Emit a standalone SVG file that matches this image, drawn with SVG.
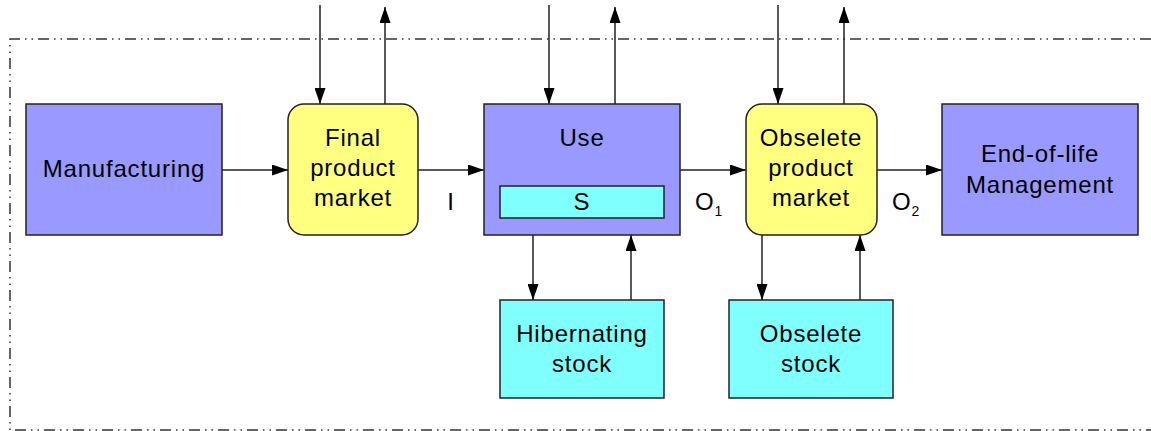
<svg xmlns="http://www.w3.org/2000/svg" width="1151" height="431" viewBox="0 0 1151 431">
<style>
.t{font-family:"Liberation Sans",Arial,sans-serif;font-size:24px;letter-spacing:0.8px;fill:#000;text-anchor:middle}
.b{fill:#9999FF;stroke:#222;stroke-width:1.5}
.y{fill:#FFFF80;stroke:#222;stroke-width:1.5}
.c{fill:#80FFFF;stroke:#222;stroke-width:1.5}
.l{fill:none;stroke:#222;stroke-width:1.5}
.bd{fill:none;stroke:#333;stroke-width:1.5;stroke-dasharray:11 5 1.5 5 1.5 5}
</style>
<defs>
<marker id="a" viewBox="0 0 16 11" refX="16" refY="5.5" markerWidth="16" markerHeight="11" markerUnits="userSpaceOnUse" orient="auto">
<path d="M0,0 L16,5.5 L0,11 Z" fill="#000"/>
</marker>
</defs>
<path class="bd" d="M1151,39 H10 V430 H1151"/>
<g id="connectors">
<line class="l" x1="222" y1="170" x2="288" y2="170" marker-end="url(#a)"/>
<line class="l" x1="418" y1="170" x2="484" y2="170" marker-end="url(#a)"/>
<line class="l" x1="680" y1="170" x2="746" y2="170" marker-end="url(#a)"/>
<line class="l" x1="877" y1="170" x2="942" y2="170" marker-end="url(#a)"/>
<line class="l" x1="320" y1="5" x2="320" y2="104" marker-end="url(#a)"/>
<line class="l" x1="385" y1="104" x2="385" y2="7" marker-end="url(#a)"/>
<line class="l" x1="549" y1="5" x2="549" y2="104" marker-end="url(#a)"/>
<line class="l" x1="615" y1="104" x2="615" y2="7" marker-end="url(#a)"/>
<line class="l" x1="778" y1="5" x2="778" y2="104" marker-end="url(#a)"/>
<line class="l" x1="844" y1="104" x2="844" y2="7" marker-end="url(#a)"/>
<line class="l" x1="533" y1="235" x2="533" y2="300" marker-end="url(#a)"/>
<line class="l" x1="631" y1="300" x2="631" y2="235" marker-end="url(#a)"/>
<line class="l" x1="762" y1="235" x2="762" y2="300" marker-end="url(#a)"/>
<line class="l" x1="860" y1="300" x2="860" y2="235" marker-end="url(#a)"/>
<text class="t" x="451" y="210">I</text>
<text class="t" x="709" y="210">O<tspan font-size="14" dy="6">1</tspan></text>
<text class="t" x="906" y="210">O<tspan font-size="14" dy="6">2</tspan></text>
</g>
<g id="manufacturing">
<rect class="b" x="26" y="104" width="196" height="131"/>
<text class="t" x="124" y="177">Manufacturing</text>
</g>
<g id="final-product-market">
<rect class="y" x="288" y="104" width="130" height="131" rx="16"/>
<text class="t" x="353" y="146">Final</text>
<text class="t" x="353" y="176">product</text>
<text class="t" x="353" y="206">market</text>
</g>
<g id="use">
<rect class="b" x="484" y="104" width="196" height="131"/>
<text class="t" x="582" y="146">Use</text>
<rect class="c" x="500" y="186" width="164" height="32"/>
<text class="t" x="582" y="210">S</text>
</g>
<g id="obsolete-product-market">
<rect class="y" x="746" y="104" width="131" height="131" rx="16"/>
<text class="t" x="811" y="146">Obselete</text>
<text class="t" x="811" y="176">product</text>
<text class="t" x="811" y="206">market</text>
</g>
<g id="end-of-life">
<rect class="b" x="942" y="104" width="196" height="131"/>
<text class="t" x="1040" y="162">End-of-life</text>
<text class="t" x="1040" y="193">Management</text>
</g>
<g id="hibernating-stock">
<rect class="c" x="500" y="300" width="164" height="98"/>
<text class="t" x="582" y="342">Hibernating</text>
<text class="t" x="582" y="372">stock</text>
</g>
<g id="obsolete-stock">
<rect class="c" x="729" y="300" width="164" height="98"/>
<text class="t" x="811" y="342">Obselete</text>
<text class="t" x="811" y="372">stock</text>
</g>
</svg>
